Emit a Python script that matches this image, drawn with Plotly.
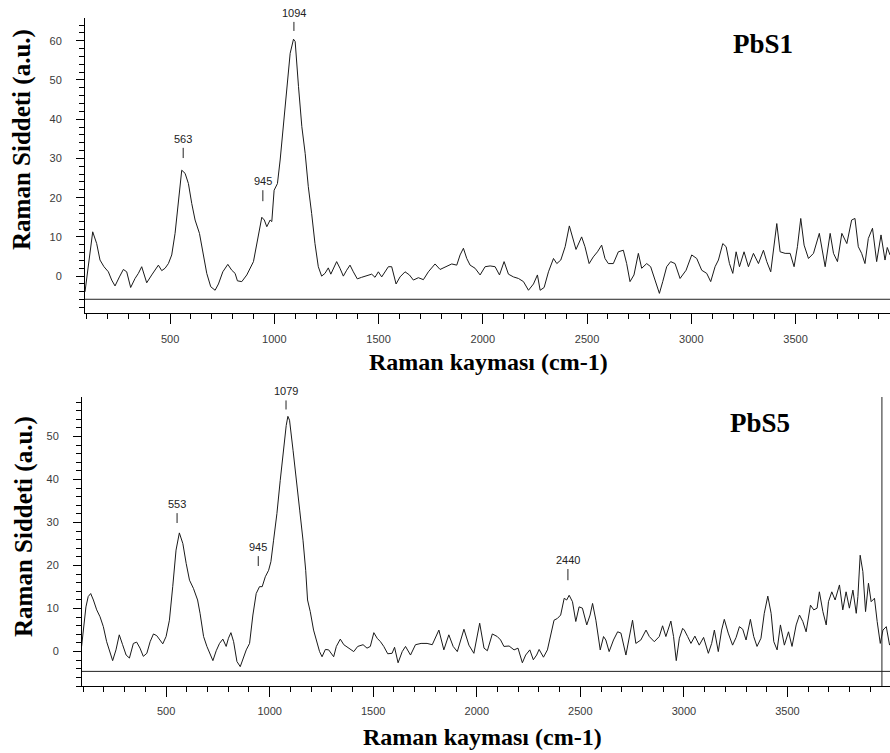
import plotly.graph_objects as go

# ---------------- data ----------------
pbs1_shift = [92,108,129,148,164,183,204,220,236,257,276,292,311,332,348,364,388,412,444,460,476,492,
              508,524,540,556,572,588,604,620,641,660,676,695,716,732,753,777,796,812,823,844,868,900,
              916,928,940,952,964,980,988,999,1015,1028,1044,1060,1076,1092,1100,1116,1132,1148,1163,
              1179,1195,1211,1227,1243,1259,1271,1283,1299,1315,1331,1347,1363,1379,1398,1419,1443,1467,
              1483,1499,1515,1531,1547,1563,1584,1603,1627,1648,1667,1691,1715,1739,1771,1795,1827,1851,
              1875,1891,1907,1923,1939,1963,1987,2011,2035,2059,2080,2102,2123,2147,2171,2195,2219,2243,
              2262,2275,2294,2315,2339,2355,2374,2395,2415,2434,2447,2474,2490,2510,2530,2550,2570,2586,
              2602,2626,2650,2674,2690,2706,2725,2746,2762,2786,2805,2826,2847,2863,2882,2901,2922,2946,
              2975,3002,3026,3050,3074,3093,3114,3130,3151,3167,3183,3199,3215,3231,3253,3274,3298,3322,
              3346,3362,3381,3410,3426,3450,3474,3493,3509,3525,3541,3562,3586,3614,3642,3666,3682,3701,
              3722,3746,3769,3785,3801,3817,3833,3849,3869,3889,3910,3929,3940,3953]
pbs1_int = [-4.0,3.2,11.3,8.3,4.1,2.4,1.1,-1.0,-2.5,-0.2,1.7,1.1,-2.9,-0.6,0.7,2.4,-1.7,0.3,2.8,1.4,2.0,3.2,
            5.4,10.9,19.4,27.0,26.2,23.6,18.5,14.3,10.9,5.8,0.7,-2.7,-3.6,-2.0,1.1,3.0,1.5,0.7,-1.2,-1.4,0.3,3.7,
            8.3,11.7,15.0,14.3,12.6,14.3,13.9,21.9,23.6,29.6,38.9,47.4,56.8,60.4,59.8,48.3,38.1,31.3,22.8,
            16.0,8.3,2.4,0.0,0.7,2.1,0.5,1.7,3.7,2.0,0.0,1.5,2.8,1.1,-0.7,-0.3,0.2,0.5,
            -0.3,1.1,-0.2,1.1,2.4,2.4,-2.0,-0.2,1.1,0.3,-1.0,-0.4,-0.9,1.1,3.1,1.7,2.4,3.1,
            2.8,5.4,7.1,4.5,2.8,2.0,0.3,2.4,2.6,2.4,0.3,3.7,0.5,-0.2,-0.6,-1.4,-3.6,-2.0,
            0.3,-3.6,-2.9,1.1,4.5,3.2,4.1,7.5,12.8,9.2,6.8,10.0,7.5,3.2,4.9,6.2,7.9,4.5,
            3.2,3.2,6.2,6.6,3.2,-1.4,0.3,5.8,2.0,3.2,2.4,-1.0,-4.4,-1.4,2.4,3.7,3.2,-0.6,
            1.5,5.4,4.5,1.5,0.7,-1.4,2.4,4.1,8.3,7.5,3.2,0.7,6.2,2.4,6.2,2.4,5.8,3.2,
            6.6,3.7,1.1,13.4,6.2,5.8,5.8,2.4,7.5,14.7,7.9,4.5,5.8,10.9,2.4,10.9,5.8,3.7,
            10.9,8.3,14.3,14.7,7.5,5.8,3.2,9.6,12.2,3.7,10.5,4.1,7.3,5.4]

pbs5_shift = [92,100,113,124,136,149,165,181,197,213,229,242,258,274,290,307,323,342,358,374,390,407,423,
              439,455,468,484,500,516,532,548,564,581,597,613,632,652,664,681,697,713,726,742,758,774,790,
              801,813,826,842,858,874,887,903,919,935,951,964,979,995,1006,1019,1035,1051,1067,1080,1088,
              1096,1113,1129,1145,1161,1174,1183,1196,1212,1229,1241,1253,1269,1285,1309,1322,1341,1358,
              1382,1406,1425,1451,1470,1486,1503,1519,1535,1551,1570,1591,1603,1620,1640,1656,1680,1704,
              1731,1760,1785,1817,1841,1865,1886,1906,1938,1962,1986,2014,2035,2051,2075,2099,2115,2131,
              2156,2180,2199,2220,2236,2256,2273,2289,2301,2322,2341,2357,2373,2389,2405,2422,2434,2446,
              2462,2478,2494,2510,2531,2547,2559,2575,2596,2612,2623,2639,2660,2680,2696,2720,2736,2752,
              2768,2792,2817,2833,2857,2881,2897,2913,2937,2950,2963,2978,2994,3002,3018,3034,3053,3074,
              3095,3118,3134,3147,3166,3182,3195,3214,3235,3252,3268,3284,3300,3321,3337,3353,3372,3388,
              3405,3421,3434,3450,3466,3485,3505,3522,3542,3558,3574,3590,3611,3627,3643,3654,3671,3687,
              3698,3714,3730,3751,3767,3783,3799,3816,3832,3840,3851,3864,3877,3891,3904,3920,3933,3948,
              3961,3977,3993]
pbs5_int = [1.2,4.3,10.4,12.8,13.5,12.0,9.7,8.1,5.8,2.3,-0.4,-2.1,0.4,3.9,1.6,-0.8,-1.5,1.9,2.2,0.8,-1.1,-0.4,2.3,
            4.1,3.7,2.7,1.8,3.5,7.3,15.1,23.6,27.6,25.1,20.5,16.6,14.7,12.0,8.9,3.5,1.2,-0.4,-2.1,0.2,1.9,2.9,1.2,
            3.1,4.4,2.3,-2.3,-3.5,-1.5,0.4,1.9,8.5,13.5,15.1,15.1,17.4,18.9,20.9,25.9,32.1,39.8,47.6,52.6,54.7,
            53.8,46.8,39.1,32.9,25.9,18.9,12.0,9.3,5.0,1.9,0.0,-1.2,0.5,0.4,-1.2,1.2,2.9,1.6,
            0.8,0.0,1.2,1.6,0.8,1.2,4.4,3.1,2.3,1.2,-0.5,-0.4,1.0,-2.6,0.0,1.2,-0.8,1.6,
            1.9,1.9,1.6,5.0,0.4,3.9,1.2,0.0,5.2,1.5,-0.4,6.6,0.8,0.2,4.1,3.5,2.7,1.2,
            1.3,0.4,0.8,-2.6,-0.8,0.4,-1.9,-0.8,0.5,-1.3,0.4,3.5,7.3,7.7,8.5,12.4,12.0,13.1,
            11.6,7.0,10.4,10.1,6.2,8.5,11.2,7.3,0.4,3.5,2.7,0.0,2.7,4.6,4.3,-0.8,3.5,7.3,
            1.9,2.7,5.0,3.5,2.3,3.5,6.0,3.5,7.1,3.5,-2.1,3.1,5.4,5.0,3.5,1.9,3.6,1.5,
            3.3,-0.4,1.9,5.0,0.0,5.0,7.5,4.3,1.5,3.3,5.8,5.2,2.7,7.5,3.5,1.2,3.1,8.9,
            12.9,8.9,2.3,0.4,6.2,1.5,4.6,1.2,6.2,8.5,7.0,4.6,10.8,9.7,10.1,13.9,9.3,6.2,
            11.6,13.9,12.0,15.5,9.7,13.9,10.1,14.3,8.9,12.8,22.4,18.6,9.3,15.9,11.6,12.4,7.0,1.9,
            5.0,5.8,1.5]

sample_names = ["PbS1", "PbS5"]
pbs1_peaks = [563, 945, 1094]
pbs5_peaks = [553, 945, 1079, 2440]
x_title = "Raman kayması (cm-1)"
y_title = "Raman Siddeti (a.u.)"

# ---------------- layout / positions ----------------
W, H = 890, 753
# label marker extents (data units) for each peak: (tick bottom, tick top)
pbs1_label_pos = [(30.1, 32.7), (19.1, 21.9), (62.5, 64.8)]
pbs5_label_pos = [(29.9, 32.2), (19.9, 22.2), (56.3, 58.4), (16.6, 19.2)]

def py(p):  # pixel row -> paper fraction
    return 1 - p / H

def px(p):
    return p / W

fig = go.Figure()
line_style = dict(color="#1a1a1a", width=1)
fig.add_trace(go.Scatter(x=pbs1_shift, y=pbs1_int, mode="lines", line=line_style,
                         xaxis="x", yaxis="y", showlegend=False, hoverinfo="skip"))
fig.add_trace(go.Scatter(x=pbs5_shift, y=pbs5_int, mode="lines", line=line_style,
                         xaxis="x2", yaxis="y2", showlegend=False, hoverinfo="skip"))

tickfont = dict(family="Liberation Sans, Arial, sans-serif", size=11, color="#3a3a3a")
common_x = dict(showgrid=False, zeroline=False, showline=True, linecolor="black", linewidth=1,
                ticks="outside", ticklen=10, tickcolor="black", tickwidth=1, dtick=500, tick0=0,
                tickfont=tickfont,
                minor=dict(ticks="outside", ticklen=5, dtick=100, tickcolor="black", tickwidth=1, showgrid=False))
common_y = dict(showgrid=False, zeroline=False, showline=True, linecolor="black", linewidth=1,
                ticks="outside", ticklen=8, tickcolor="black", tickwidth=1, dtick=10, tick0=0,
                tickfont=tickfont, ticklabelstandoff=12,
                minor=dict(ticks="outside", ticklen=5, dtick=2, tickcolor="black", tickwidth=1, showgrid=False))

fig.update_layout(
    width=W, height=H, autosize=False,
    margin=dict(l=0, r=0, t=0, b=0),
    paper_bgcolor="white", plot_bgcolor="white",
    xaxis=dict(common_x, domain=[px(85), 1.0], range=[92, 3953], anchor="y", ticklabelstandoff=6),
    yaxis=dict(common_y, domain=[py(313), py(18)], range=[-9.4, 65.8], anchor="x"),
    xaxis2=dict(common_x, domain=[px(82), 1.0], range=[94, 3995], anchor="y2", ticklabelstandoff=5),
    yaxis2=dict(common_y, domain=[py(686), py(397)], range=[-8.0, 59.2], anchor="x2"),
)

shapes = []
annotations = []
serif_bold = "Liberation Serif, Times New Roman, serif"

# baselines
shapes.append(dict(type="line", xref="x domain", yref="y", x0=0, x1=1, y0=-5.9, y1=-5.9,
                   line=dict(color="#222", width=1)))
shapes.append(dict(type="line", xref="x2 domain", yref="y2", x0=0, x1=1, y0=-4.6, y1=-4.6,
                   line=dict(color="#222", width=1)))
# cursor line in lower panel
shapes.append(dict(type="line", xref="x2", yref="y2 domain", x0=3956, x1=3956, y0=0, y1=1,
                   line=dict(color="#222", width=1)))

for (xr, yr), peaks, pos in [(("x", "y"), pbs1_peaks, pbs1_label_pos),
                             (("x2", "y2"), pbs5_peaks, pbs5_label_pos)]:
    for pk, (t0, t1) in zip(peaks, pos):
        shapes.append(dict(type="line", xref=xr, yref=yr, x0=pk, x1=pk, y0=t0, y1=t1,
                           line=dict(color="#222", width=1)))
        annotations.append(dict(x=pk, y=t1, xref=xr, yref=yr, text=str(pk), showarrow=False,
                                font=dict(family="Liberation Sans, Arial, sans-serif", size=11, color="#222"),
                                xanchor="center", yanchor="middle", yshift=9))

# sample names
annotations.append(dict(x=px(763), y=py(44), xref="paper", yref="paper", text=f"<b>{sample_names[0]}</b>",
                        showarrow=False, font=dict(family=serif_bold, size=27, color="black"),
                        xanchor="center", yanchor="middle"))
annotations.append(dict(x=px(760), y=py(423), xref="paper", yref="paper", text=f"<b>{sample_names[1]}</b>",
                        showarrow=False, font=dict(family=serif_bold, size=27, color="black"),
                        xanchor="center", yanchor="middle"))
# axis titles
for cx, cy in [(488, 362), (482, 737)]:
    annotations.append(dict(x=px(cx), y=py(cy), xref="paper", yref="paper", text=f"<b>{x_title}</b>",
                            showarrow=False, font=dict(family=serif_bold, size=24, color="black"),
                            xanchor="center", yanchor="middle"))
for cx, cy in [(22, 140), (24, 527)]:
    annotations.append(dict(x=px(cx), y=py(cy), xref="paper", yref="paper", text=f"<b>{y_title}</b>",
                            showarrow=False, textangle=-90,
                            font=dict(family=serif_bold, size=25, color="black"),
                            xanchor="center", yanchor="middle"))

fig.update_layout(shapes=shapes, annotations=annotations)
fig.write_html("out.html",
               config={"displayModeBar": False},
               post_script="document.body.style.margin='0';document.body.style.overflow='hidden';"
                           "document.documentElement.style.overflow='hidden';")
